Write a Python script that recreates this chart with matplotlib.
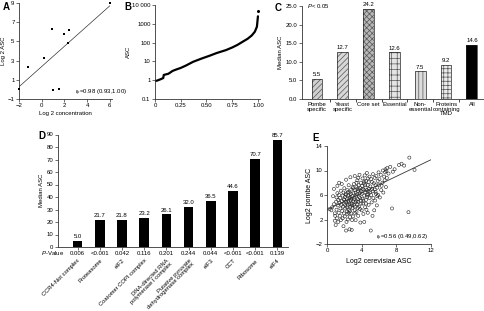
import matplotlib.pyplot as plt
import numpy as np

plt.rcParams['font.family'] = ['Liberation Sans', 'DejaVu Sans']
plt.rcParams['font.size'] = 4.3
plt.rcParams['mathtext.fontset'] = 'custom'
plt.rcParams['mathtext.rm'] = 'Liberation Sans'
plt.rcParams['mathtext.it'] = 'Liberation Sans:italic'
plt.rcParams['hatch.linewidth'] = 0.5

FS = 4.3

# --- panel A: log2 concentration vs log2 ASC
a_conc = [-2.0, -1.2, 0.2, 0.9, 1.0, 1.5, 2.0, 2.3, 2.4, 6.0]
a_asc = [0.0, 2.3, 3.3, 6.3, -0.1, 0.0, 5.8, 4.8, 6.2, 9.0]

# --- panel B: ranked ASC distribution (fraction of proteins vs ASC)
b_frac = [0.0, 0.02, 0.05, 0.08, 0.085, 0.10, 0.13, 0.15, 0.17, 0.20, 0.25,
          0.30, 0.37, 0.45, 0.53, 0.60, 0.69, 0.75, 0.80, 0.85, 0.90, 0.94,
          0.97, 0.99, 1.0]
b_asc = [0.9, 0.95, 1.1, 1.3, 1.9, 2.0, 2.2, 2.6, 3.1, 3.6, 4.5,
         6.0, 9.5, 14, 20, 28, 40, 55, 75, 110, 160, 240,
         380, 700, 2500]
b_top = 5000

# --- panel C: median ASC by protein group
c_groups = ['Pombe\nspecific', 'Yeast\nspecific', 'Core set', 'Essential',
            'Non-\nessential', 'Proteins\ncontaining\nTMD', 'All']
c_median = [5.5, 12.7, 24.2, 12.6, 7.5, 9.2, 14.6]
c_hatch = ['//////', '//////', 'xxxxxx', '+++', '||||', '++++', '']
c_face = ['#d0d0d0', '#d8d8d8', '#b8b8b8', '#e4e4e4', '#dcdcdc', '#ececec', 'black']

# --- panel D: median ASC by complex
d_complex = ['CCR4-Not complex', 'Proteasome', 'eIF2', 'Coatomer COPI complex',
             'DNA-directed RNA\npolymerase I complex',
             'Putative pyruvate\ndehydrogenase complex',
             'eIF3', 'CCT', 'Ribosome', 'eIF4']
d_median = [5.0, 21.7, 21.8, 23.2, 26.1, 32.0, 36.5, 44.6, 70.7, 85.7]
d_pval = ['0.006', '<0.001', '0.042', '0.116', '0.201', '0.244', '0.044',
          '<0.001', '<0.001', '0.139']

# --- panel E: log2 cerevisiae ASC vs log2 pombe ASC
e_points = [
    (0.3, 3.7), (0.5, 3.5), (0.6, 4.0), (0.7, 5.8), (0.8, 4.5), (0.9, 3.0), (0.9, 1.8),
    (0.95, 2.6), (0.8, 7.0),
    (1.0, 1.1), (1.05, 4.9), (1.1, 5.6), (1.1, 3.6), (1.15, 2.2), (1.2, 7.5), (1.2, 6.3),
    (1.25, 4.3), (1.3, 1.6), (1.3, 5.2), (1.35, 3.1), (1.4, 6.0), (1.4, 8.0), (1.45, 4.7),
    (1.5, 2.6), (1.5, 5.5), (1.55, 3.8), (1.6, 6.7), (1.6, 1.9), (1.65, 4.4), (1.7, 5.0),
    (1.7, 7.8), (1.75, 3.4), (1.8, 5.9), (1.8, 2.2), (1.85, 4.1), (1.9, 6.4), (1.9, 0.9),
    (1.95, 5.3), (1.95, 3.0),
    (2.0, 4.6), (2.0, 7.1), (2.05, 2.5), (2.1, 5.7), (2.1, 3.8), (2.15, 6.2), (2.2, 0.2),
    (2.2, 4.9), (2.2, 8.5), (2.25, 1.6), (2.3, 5.3), (2.3, 3.3), (2.35, 6.8), (2.4, 4.3),
    (2.4, 2.0), (2.45, 5.9), (2.5, 7.6), (2.5, 4.8), (2.55, 3.6), (2.6, 0.4), (2.6, 5.5),
    (2.6, 6.4), (2.65, 2.4), (2.7, 4.1), (2.7, 8.9), (2.75, 5.1), (2.8, 3.0), (2.8, 6.9),
    (2.85, 0.3), (2.85, 4.6), (2.9, 5.8), (2.9, 1.9), (2.95, 7.3), (2.95, 3.9), (2.0, 5.2),
    (2.2, 6.0), (2.4, 5.0), (2.5, 3.1), (2.7, 5.7), (2.9, 4.3), (2.3, 4.0), (2.6, 4.5),
    (2.8, 5.4), (2.1, 4.4), (2.45, 6.5), (2.75, 6.2), (2.35, 2.9), (2.65, 3.4),
    (3.0, 5.0), (3.0, 2.5), (3.05, 6.3), (3.1, 4.4), (3.1, 7.8), (3.15, 5.6), (3.2, 3.5),
    (3.2, 9.1), (3.25, 6.8), (3.3, 4.8), (3.3, 1.9), (3.35, 5.9), (3.4, 7.3), (3.4, 3.2),
    (3.45, 6.1), (3.5, 4.5), (3.5, 8.4), (3.55, 5.3), (3.6, 2.6), (3.6, 6.6), (3.65, 7.6),
    (3.7, 4.1), (3.7, 5.7), (3.75, 9.3), (3.8, 3.7), (3.8, 6.3), (3.85, 1.5), (3.85, 7.1),
    (3.9, 5.1), (3.9, 8.0), (3.95, 4.6), (3.1, 5.3), (3.3, 6.4), (3.5, 7.0), (3.7, 6.9),
    (3.9, 6.7), (3.2, 4.1), (3.4, 5.0), (3.6, 4.9), (3.8, 5.5), (3.0, 7.1), (3.6, 8.8),
    (3.4, 8.0), (3.25, 3.0), (3.55, 3.9),
    (4.0, 6.2), (4.0, 3.5), (4.05, 7.5), (4.1, 5.4), (4.1, 8.7), (4.15, 4.6), (4.2, 6.9),
    (4.2, 2.9), (4.25, 7.9), (4.3, 1.6), (4.3, 5.9), (4.35, 9.2), (4.4, 6.5), (4.4, 4.0),
    (4.45, 7.2), (4.5, 5.2), (4.5, 8.3), (4.55, 3.6), (4.6, 6.8), (4.6, 9.6), (4.65, 5.7),
    (4.7, 7.6), (4.7, 3.1), (4.75, 6.1), (4.8, 8.1), (4.8, 4.4), (4.85, 7.0), (4.9, 5.5),
    (4.9, 9.0), (4.95, 6.4), (4.2, 5.1), (4.4, 7.7), (4.6, 6.0), (4.8, 6.6), (4.3, 8.2),
    (4.7, 8.7), (4.5, 4.6), (4.1, 7.0),
    (5.0, 7.4), (5.05, 0.2), (5.1, 6.0), (5.1, 8.6), (5.15, 4.8), (5.2, 7.0), (5.25, 2.6),
    (5.3, 6.6), (5.3, 9.4), (5.35, 5.5), (5.4, 7.9), (5.45, 3.5), (5.5, 6.9), (5.5, 8.8),
    (5.55, 5.1), (5.6, 7.6), (5.65, 6.2), (5.7, 9.1), (5.75, 4.3), (5.8, 7.2), (5.85, 8.3),
    (5.9, 6.0), (5.95, 9.7), (5.2, 8.1), (5.6, 6.5), (5.8, 5.8),
    (6.0, 7.7), (6.05, 8.6), (6.1, 5.6), (6.2, 9.3), (6.25, 6.8), (6.3, 7.5), (6.4, 8.0),
    (6.45, 10.0), (6.5, 6.4), (6.6, 9.0), (6.65, 8.4), (6.7, 9.7), (6.75, 10.2), (6.8, 7.3),
    (6.85, 9.9), (6.9, 8.8), (6.95, 10.4),
    (7.1, 9.5), (7.3, 10.6), (7.5, 3.8), (7.6, 9.8), (7.8, 10.2), (8.3, 10.9), (8.6, 11.1),
    (8.9, 10.8), (9.4, 3.2), (9.5, 12.1), (10.1, 10.1),
]
e_fit = (3.6, 0.68)  # intercept, slope of the drawn regression line


def style(ax):
    for s in ['top', 'right']:
        ax.spines[s].set_visible(False)
    for s in ['left', 'bottom']:
        ax.spines[s].set_linewidth(0.6)
        ax.spines[s].set_color('#333333')
    ax.tick_params(length=2, width=0.5, pad=1.2, labelsize=FS, color='#333333')


W, H = 485, 311


def place(x0, y0, x1, y1):
    # pixel box (top-left origin) -> figure axes
    return fig.add_axes([x0 / W, 1 - y1 / H, (x1 - x0) / W, (y1 - y0) / H])


fig = plt.figure(figsize=(4.85, 3.11), dpi=100)

# ---------------- A
ax = place(19, 3, 112, 99)
style(ax)
ax.scatter(a_conc, a_asc, s=3, marker='s', color='black', lw=0, clip_on=False, zorder=3)
k, b = np.polyfit(a_conc, a_asc, 1)
xx = np.array([-2, 6])
ax.plot(xx, k * xx + b, color='#333333', lw=0.5)
ax.set_xlim(-2, 6.2)
ax.set_ylim(-1, 9)
ax.set_xticks([-2, 0, 2, 4, 6])
ax.set_yticks([-1, 1, 3, 5, 7, 9])
ax.set_xlabel('Log 2 concentration', labelpad=2)
ax.set_ylabel('Log 2 ASC', labelpad=1)
ax.text(2.9, -0.4, r'$r_p$=0.98 (0.93,1.00)', va='center', fontsize=FS)

# ---------------- B
ax = place(155, 5, 260, 99)
style(ax)
ax.set_yscale('log')
ax.plot(b_frac, b_asc, color='black', lw=1.6, solid_capstyle='round')
ax.plot([1.0], [b_top], marker='o', ms=1.2, color='black', clip_on=False)
ax.set_xlim(0, 1.02)
ax.set_ylim(0.1, 10000)
ax.set_yticks([0.1, 1, 10, 100, 1000, 10000])
ax.set_yticklabels(['0.1', '1', '10', '100', '1000', '10 000'])
ax.minorticks_off()
ax.set_xticks([0, 0.25, 0.5, 0.75, 1.0])
ax.set_xticklabels(['0', '0.25', '0.50', '0.75', '1.00'])
ax.set_ylabel('ASC', labelpad=1)

# ---------------- C
ax = place(302, 6, 483, 99)
style(ax)
xc = np.arange(len(c_groups))
for i in range(len(c_groups)):
    ax.bar(xc[i], c_median[i], width=0.42, color=c_face[i], edgecolor='#555555',
           hatch=c_hatch[i], lw=0)
ax.bar(xc, c_median, width=0.42, fill=False, edgecolor='#222222', lw=0.5)
for i, v in enumerate(c_median):
    ax.text(xc[i], v + 0.4, f'{v:.1f}', ha='center', va='bottom', fontsize=FS)
ax.set_xlim(-0.58, 6.43)
ax.set_ylim(0, 25)
ax.set_yticks(np.arange(0, 26, 5))
ax.set_yticklabels([f'{t:.1f}' for t in np.arange(0, 26, 5)])
ax.set_xticks(xc)
ax.set_xticklabels(c_groups, linespacing=0.95)
ax.set_xticks(xc[:-1] + 0.5, minor=True)
ax.tick_params(axis='x', which='major', length=0, pad=2)
ax.tick_params(axis='x', which='minor', length=2, width=0.5)
ax.set_ylabel('Median ASC', labelpad=2)
ax.text(-0.38, 25, r'$P$< 0.05', va='center', fontsize=FS)

# ---------------- D
ax = place(58, 134.5, 288, 247)
style(ax)
xd = np.arange(len(d_complex))
ax.bar(xd, d_median, width=0.43, color='black')
for i, v in enumerate(d_median):
    ax.text(xd[i], v + 1.5, f'{v:.1f}', ha='center', va='bottom', fontsize=FS)
ax.set_xlim(-0.88, 9.48)
ax.set_ylim(0, 90)
ax.set_yticks(np.arange(0, 91, 10))
ax.set_xticks(xd)
ax.set_xticklabels(d_complex, rotation=45, ha='right', rotation_mode='anchor',
                   linespacing=0.9)
ax.tick_params(axis='x', pad=6, labelsize=4.2)
trans = ax.get_xaxis_transform()
for i, p in enumerate(d_pval):
    ax.text(xd[i], -0.055, p, transform=trans, ha='center', va='center', fontsize=FS)
ax.text(-0.62, -0.055, r'$P$-Value', transform=trans, ha='right', va='center',
        fontsize=FS)
ax.set_ylabel('Median ASC', labelpad=2)

# ---------------- E
ax = place(327, 146, 431, 244)
style(ax)
ex = [p[0] for p in e_points]
ey = [p[1] for p in e_points]
ax.scatter(ex, ey, s=5, facecolors='none', edgecolors='#222222', linewidths=0.4)
xx = np.array([0, 12])
ax.plot(xx, e_fit[0] + e_fit[1] * xx, color='#333333', lw=0.6)
ax.set_xlim(0, 12)
ax.set_ylim(-2, 14)
ax.set_xticks([0, 4, 8, 12])
ax.set_yticks([-2, 2, 6, 10, 14])
ax.set_xlabel('Log2 cerevisiae ASC', fontsize=5, labelpad=3)
ax.set_ylabel('Log2 pombe ASC', fontsize=5, labelpad=2)
ax.text(5.7, -1.0, r'$r_p$=0.56 (0.49,0.62)', va='center', fontsize=FS)

# panel letters
for lab, x, y in [('A', 3, 7), ('B', 124, 7), ('C', 275, 8), ('D', 38, 136), ('E', 312, 138)]:
    fig.text(x / W, 1 - y / H, lab, fontsize=7, fontweight='bold', va='center')

fig.savefig('out.png', dpi=100)
